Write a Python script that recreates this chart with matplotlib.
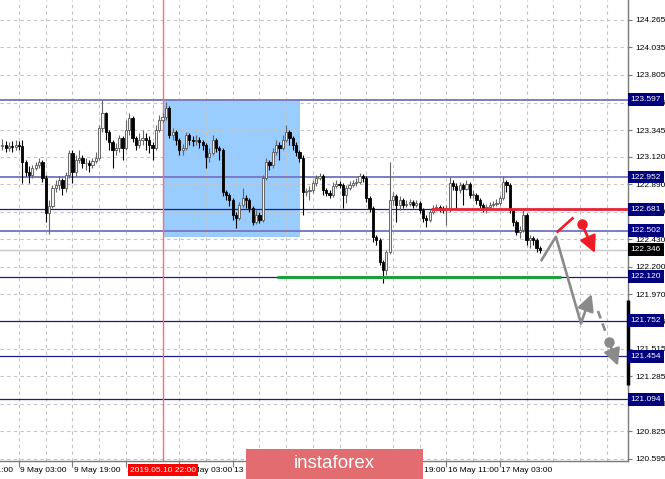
#!/usr/bin/env python3
"""USD/JPY H1 chart with levels, instaforex-style markup."""

import numpy as np
import matplotlib
matplotlib.use('Agg')
import matplotlib.pyplot as plt
import matplotlib.transforms as mtransforms
from matplotlib.patches import Rectangle

plt.rcParams['font.family'] = ['Liberation Sans', 'DejaVu Sans']

# --- data ---
OPEN0 = 123.211
CLOSES = [
    123.219, 123.194, 123.211, 123.203, 123.219, 123.211, 123.077, 122.994, 122.969, 123.027,
    123.052, 123.077, 122.944, 122.651, 122.710, 122.860, 122.885, 122.927, 122.860, 122.969,
    123.153, 122.994, 123.094, 123.111, 123.069, 123.069, 123.052, 123.086, 123.111, 123.362,
    123.487, 123.328, 123.245, 123.178, 123.194, 123.278, 123.194, 123.345, 123.445, 123.278,
    123.219, 123.261, 123.278, 123.261, 123.219, 123.194, 123.345, 123.429, 123.454, 123.529,
    123.303, 123.328, 123.261, 123.178, 123.194, 123.303, 123.261, 123.253, 123.261, 123.245,
    123.219, 123.119, 123.153, 123.261, 123.194, 123.178, 122.827, 122.802, 122.760, 122.635,
    122.609, 122.718, 122.777, 122.760, 122.693, 122.576, 122.635, 122.593, 122.944, 123.077,
    123.052, 123.161, 123.219, 123.194, 123.261, 123.328, 123.278, 123.219, 123.161, 123.111,
    122.827, 122.835, 122.843, 122.902, 122.944, 122.960, 122.843, 122.818, 122.802, 122.877,
    122.893, 122.885, 122.802, 122.860, 122.885, 122.902, 122.910, 122.960, 122.944, 122.777,
    122.693, 122.451, 122.426, 122.241, 122.175, 122.325, 122.760, 122.793, 122.718, 122.760,
    122.718, 122.727, 122.743, 122.718, 122.735, 122.676, 122.609, 122.593, 122.660, 122.693,
    122.701, 122.685, 122.676, 122.685, 122.902, 122.877, 122.843, 122.885, 122.852, 122.893,
    122.802, 122.802, 122.760, 122.718, 122.693, 122.701, 122.718, 122.727, 122.735, 122.777,
    122.910, 122.885, 122.676, 122.576, 122.492, 122.509, 122.635, 122.426, 122.442, 122.426,
    122.359, 122.346,
]
HIGHS = [
    123.270, 123.253, 123.245, 123.253, 123.261, 123.253, 123.261, 123.094, 123.044, 123.052,
    123.077, 123.111, 123.094, 122.969, 122.760, 122.885, 122.927, 122.960, 122.944, 122.994,
    123.178, 123.178, 123.136, 123.178, 123.136, 123.111, 123.094, 123.111, 123.161, 123.387,
    123.596, 123.496, 123.345, 123.261, 123.236, 123.303, 123.295, 123.429, 123.487, 123.462,
    123.295, 123.320, 123.345, 123.320, 123.295, 123.245, 123.387, 123.470, 123.487, 123.579,
    123.546, 123.362, 123.345, 123.278, 123.228, 123.328, 123.320, 123.295, 123.303, 123.286,
    123.261, 123.236, 123.194, 123.303, 123.278, 123.211, 123.194, 122.843, 122.818, 122.777,
    122.660, 122.743, 122.860, 122.802, 122.777, 122.710, 122.676, 122.660, 122.969, 123.111,
    123.094, 123.194, 123.261, 123.245, 123.303, 123.387, 123.345, 123.295, 123.245, 123.178,
    123.136, 122.860, 122.877, 122.927, 122.969, 122.985, 122.977, 122.860, 122.843, 122.910,
    122.927, 122.919, 122.902, 122.885, 122.919, 122.927, 122.944, 122.985, 122.977, 122.960,
    122.793, 122.710, 122.467, 122.442, 122.258, 122.342, 123.077, 122.827, 122.810, 122.793,
    122.777, 122.760, 122.768, 122.760, 122.760, 122.752, 122.693, 122.635, 122.685, 122.718,
    122.727, 122.718, 122.710, 122.718, 122.952, 122.927, 122.902, 122.910, 122.902, 122.927,
    122.910, 122.843, 122.818, 122.777, 122.735, 122.727, 122.743, 122.752, 122.768, 122.802,
    122.952, 122.927, 122.902, 122.693, 122.593, 122.543, 122.693, 122.651, 122.467, 122.459,
    122.442, 122.375,
]
LOWS = [
    123.178, 123.161, 123.169, 123.161, 123.178, 123.178, 122.902, 122.960, 122.902, 122.944,
    123.010, 123.027, 122.910, 122.576, 122.476, 122.693, 122.827, 122.843, 122.802, 122.827,
    122.944, 122.902, 122.960, 123.069, 123.027, 123.010, 122.994, 123.027, 123.069, 123.094,
    123.328, 123.261, 123.178, 123.027, 123.136, 123.161, 123.094, 123.178, 123.303, 123.245,
    123.178, 123.194, 123.219, 123.178, 123.153, 123.094, 123.178, 123.328, 123.412, 123.429,
    123.278, 123.261, 123.219, 123.136, 123.136, 123.178, 123.219, 123.211, 123.219, 123.194,
    123.178, 123.027, 123.077, 123.136, 123.161, 123.094, 122.793, 122.760, 122.710, 122.593,
    122.526, 122.593, 122.701, 122.693, 122.660, 122.551, 122.559, 122.568, 122.576, 122.927,
    123.010, 123.027, 123.136, 123.094, 123.178, 123.245, 123.219, 123.178, 123.127, 123.077,
    122.635, 122.793, 122.760, 122.818, 122.877, 122.927, 122.802, 122.793, 122.777, 122.785,
    122.860, 122.860, 122.693, 122.735, 122.843, 122.868, 122.877, 122.893, 122.910, 122.743,
    122.660, 122.409, 122.384, 122.216, 122.066, 122.133, 122.308, 122.718, 122.576, 122.676,
    122.693, 122.701, 122.710, 122.693, 122.701, 122.651, 122.576, 122.534, 122.576, 122.643,
    122.668, 122.660, 122.651, 122.551, 122.660, 122.843, 122.693, 122.818, 122.718, 122.843,
    122.777, 122.777, 122.727, 122.693, 122.660, 122.651, 122.693, 122.701, 122.710, 122.718,
    122.760, 122.827, 122.651, 122.543, 122.467, 122.442, 122.492, 122.384, 122.359, 122.384,
    122.325, 122.317,
]

LEVELS_LIGHT = [123.597, 122.952, 122.502]
LEVELS_DARK = [122.681, 122.120, 121.752, 121.454, 121.094]
BID = 122.346

PRICE_TICKS = [120.595, 120.825, 121.055, 121.285, 121.515, 121.745, 121.970, 122.200,
               122.430, 122.660, 122.890, 123.120, 123.345, 123.575, 123.805, 124.035, 124.265]

TIME_TICKS = [-10, 6, 22, 38, 54, 70, 86, 102, 118, 134, 150]
TIME_LABELS = ['8 May 11:00', '9 May 03:00', '9 May 19:00', '10 May 11:00', '13 May 03:00',
               '13 May 19:00', '14 May 11:00', '15 May 03:00', '15 May 19:00',
               '16 May 11:00', '17 May 03:00']

CURSOR_BAR = 49.2
CURSOR_LABEL = '2019.05.10 22:00'

ZONE_BARS = (49.2, 90.3)
ZONE_PRICES = (122.450, 123.597)

GREEN_BARS = (83.4, 168.3)
GREEN_PRICE = 122.120
RED_START = 129.3
RED_PRICE = 122.681

GREY_PATH_X = [162.5, 166.8, 174.3, 177.5]
GREY_PATH_Y = [122.258, 122.453, 121.731, 121.974]
GREY_DASH_X = [179.4, 181.8]
GREY_DASH_Y = [121.832, 121.648]
GREY_DOT = (182.7, 121.573)
GREY_TIP = (185.4, 121.374)

RED_SEG_X = [167.3, 171.8]
RED_SEG_Y = [122.495, 122.607]
RED_DOT = (174.6, 122.559)
RED_TIP = (178.5, 122.317)

RIGHT_BAR = (121.213, 121.924)

XLIM = (0.3, 188.4)
YLIM = (120.578, 124.432)

# --- figure ---
W, H = 665, 479
fig = plt.figure(figsize=(W / 100, H / 100), dpi=100)
ax = fig.add_axes([0, 18 / H, 628 / W, 461 / H])
ax.set_xlim(*XLIM)
ax.set_ylim(*YLIM)

grid_kw = dict(color='#c4c4c4', lw=0.8, ls=(0, (3, 3)), zorder=1)
for k in range(-2, 190, 8):
    ax.axvline(k, **grid_kw)
for p in PRICE_TICKS:
    ax.axhline(p, **grid_kw)

# zone + cursor
ax.add_patch(Rectangle((ZONE_BARS[0], ZONE_PRICES[0]), ZONE_BARS[1] - ZONE_BARS[0],
                       ZONE_PRICES[1] - ZONE_PRICES[0], fc='#99ccff', ec='none', zorder=0.5))
ax.axvline(CURSOR_BAR, color='#ff6b6b', lw=1, zorder=2)

for p in LEVELS_LIGHT:
    ax.axhline(p, color='#7c7cc4', lw=1.4, zorder=1.5)
for p in LEVELS_DARK:
    ax.axhline(p, color='#1c1c8c', lw=0.9, zorder=1.5)
ax.axhline(BID, color='#c8c8c8', lw=1, zorder=1.4)

# candles
closes = np.array(CLOSES)
opens = np.array([OPEN0] + CLOSES[:-1])
highs = np.array(HIGHS)
lows = np.array(LOWS)
idx = np.arange(1, len(closes) + 1)
bull = closes >= opens

ax.vlines(idx[bull], lows[bull], highs[bull], color='#666666', lw=0.8, zorder=3)
ax.vlines(idx[~bull], lows[~bull], highs[~bull], color='black', lw=0.8, zorder=3)
body_lo = np.minimum(opens, closes)
body_h = np.maximum(np.abs(closes - opens), 0.004)
ax.bar(idx[bull], body_h[bull], bottom=body_lo[bull], width=0.66,
       color='#f2f2f2', edgecolor='#555555', lw=0.6, zorder=4)
ax.bar(idx[~bull], body_h[~bull], bottom=body_lo[~bull], width=0.66,
       color='black', edgecolor='black', lw=0.6, zorder=4)

# markup lines
ax.plot(GREEN_BARS, [GREEN_PRICE, GREEN_PRICE], color='#1f9e3e', lw=2.2, zorder=5,
        solid_capstyle='butt')
ax.plot([RED_START, XLIM[1]], [RED_PRICE, RED_PRICE], color='#e8293b', lw=2.2, zorder=5,
        alpha=0.9, solid_capstyle='butt')

head = '-|>,head_length=1.0,head_width=0.5'
grey = '#8a8a8a'
ax.plot(GREY_PATH_X[:-1], GREY_PATH_Y[:-1], color=grey, lw=1.9, zorder=6)
ax.annotate('', xy=(GREY_PATH_X[-1], GREY_PATH_Y[-1]),
            xytext=(GREY_PATH_X[-2], GREY_PATH_Y[-2]),
            arrowprops=dict(arrowstyle=head, color=grey, lw=1.9, shrinkA=0, shrinkB=0),
            zorder=6)
ax.plot(GREY_DASH_X, GREY_DASH_Y, color=grey, lw=1.9, zorder=6, ls=(0, (3, 2)))
ax.plot(*GREY_DOT, 'o', color=grey, ms=6.5, zorder=6)
ax.annotate('', xy=GREY_TIP, xytext=GREY_DOT,
            arrowprops=dict(arrowstyle=head, color=grey, lw=1.9, shrinkA=0, shrinkB=0),
            zorder=6)

ax.plot(RED_SEG_X, RED_SEG_Y, color='#ee1c25', lw=1.9, zorder=6)
ax.plot(*RED_DOT, 'o', color='#ee1c25', ms=6.5, zorder=6)
ax.annotate('', xy=RED_TIP, xytext=RED_DOT,
            arrowprops=dict(arrowstyle=head, color='#ee1c25', lw=1.9, shrinkA=0, shrinkB=0),
            zorder=6)

# axes frame
for s in ('top', 'left'):
    ax.spines[s].set_visible(False)
for s in ('right', 'bottom'):
    ax.spines[s].set_color('#7a7a7a')
    ax.spines[s].set_linewidth(1)

ax.yaxis.tick_right()
ax.set_yticks(PRICE_TICKS)
ax.set_yticklabels([f'{p:.3f}' for p in PRICE_TICKS])
ax.tick_params(axis='y', length=3, width=0.8, color='#7a7a7a', labelsize=6, pad=2)
ax.set_xticks(TIME_TICKS[1:])
ax.set_xticklabels([])
ax.tick_params(axis='x', length=4, width=0.8, color='#7a7a7a')

ax.plot([XLIM[1], XLIM[1]], RIGHT_BAR, color='black', lw=2.5, zorder=7, clip_on=False,
        solid_capstyle='butt')

xt = mtransforms.blended_transform_factory(ax.transData, ax.transAxes)
for k, lab in zip(TIME_TICKS, TIME_LABELS):
    ax.text(k + 0.4, -0.012, lab, transform=xt, ha='left', va='top', fontsize=6,
            color='black', clip_on=False)
ax.text(CURSOR_BAR, -0.012, CURSOR_LABEL, transform=xt, ha='center', va='top',
        fontsize=6, color='white', clip_on=False, zorder=10,
        bbox=dict(boxstyle='square,pad=0.25', fc='#ff0000', ec='none'))

yt = mtransforms.blended_transform_factory(ax.transAxes, ax.transData)
for p in LEVELS_LIGHT + LEVELS_DARK:
    ax.text(1.004, p, f'{p:.3f}', transform=yt, ha='left', va='center', fontsize=6,
            color='white', clip_on=False, zorder=10,
            bbox=dict(boxstyle='square,pad=0.35', fc='#00007f', ec='none'))
ax.text(1.004, BID, f'{BID:.3f}', transform=yt, ha='left', va='center', fontsize=6,
        color='white', clip_on=False, zorder=10,
        bbox=dict(boxstyle='square,pad=0.35', fc='black', ec='none'))

# watermark box
fig.patches.append(Rectangle((246 / W, 0), 177 / W, 30 / H, transform=fig.transFigure,
                             fc='#e26c70', ec='none', zorder=20))
fig.text(334 / W, 15 / H, 'instaforex', ha='center', va='center', fontsize=13.5,
         color='white', zorder=21)

fig.savefig('out.png', dpi=100, facecolor='white')
